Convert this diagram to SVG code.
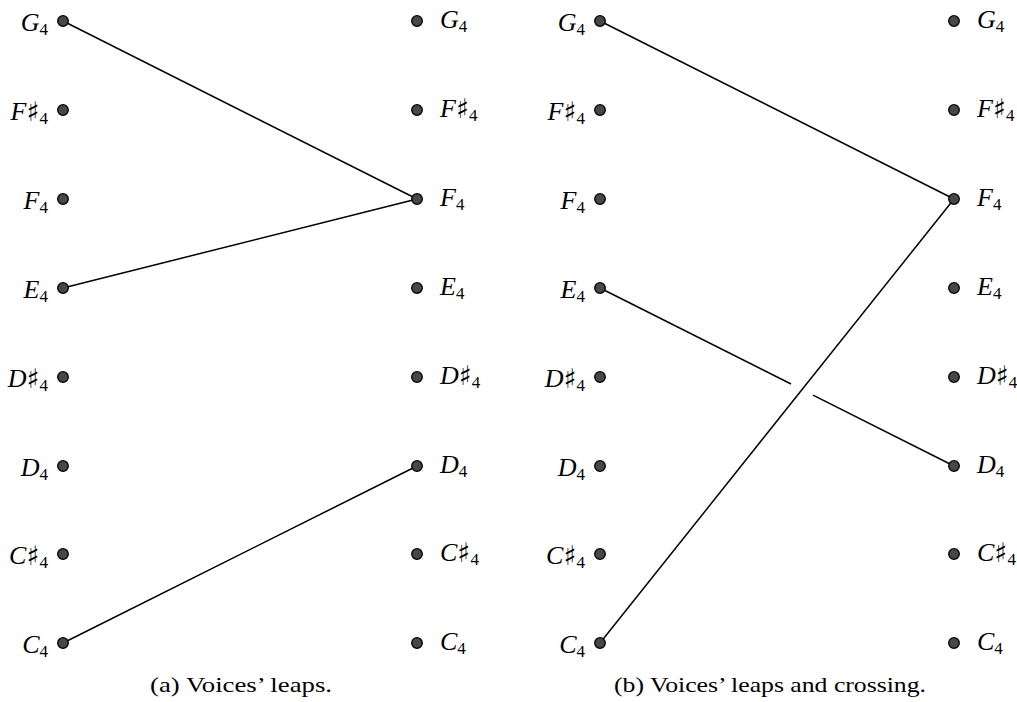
<svg xmlns="http://www.w3.org/2000/svg" width="1017" height="702" viewBox="0 0 1017 702">
<style>
.dot{fill:#474747;stroke:#000;stroke-width:1.3}
.lab{font-family:"Liberation Serif",serif;font-size:26px;fill:#000}
.L{text-anchor:end}
.n{font-style:italic}
.s{font-family:"DejaVu Serif","Liberation Serif",serif;font-size:27px;font-style:normal}
.sub{font-size:17px;font-style:normal}
.edge{stroke:#000;stroke-width:1.5;fill:none}
.cap{font-family:"Liberation Serif",serif;font-size:22px;fill:#000;text-anchor:middle}
</style>
<rect width="1017" height="702" fill="#fff"/>
<g id="connectors">
<line class="edge" x1="63" y1="21" x2="417" y2="199"/>
<line class="edge" x1="63" y1="288" x2="417" y2="199"/>
<line class="edge" x1="63" y1="643" x2="417" y2="466"/>
<line class="edge" x1="600" y1="21" x2="954" y2="199"/>
<line class="edge" x1="600" y1="643" x2="954" y2="199"/>
<line class="edge" x1="600" y1="288" x2="791" y2="384"/>
<line class="edge" x1="813" y1="395.1" x2="954" y2="466"/>
</g>
<!-- Panel a, left column -->
<g id="a-l-G4"><circle class="dot" cx="63" cy="21" r="5.3"/><text class="lab L" x="48" y="31"><tspan class="n">G</tspan><tspan class="sub" dy="4">4</tspan></text></g>
<g id="a-l-Fs4"><circle class="dot" cx="63" cy="110" r="5.3"/><text class="lab L" x="48" y="120"><tspan class="n">F</tspan><tspan class="s" dy="1">♯</tspan><tspan class="sub" dy="3">4</tspan></text></g>
<g id="a-l-F4"><circle class="dot" cx="63" cy="199" r="5.3"/><text class="lab L" x="48" y="209"><tspan class="n">F</tspan><tspan class="sub" dy="4">4</tspan></text></g>
<g id="a-l-E4"><circle class="dot" cx="63" cy="288" r="5.3"/><text class="lab L" x="48" y="298"><tspan class="n">E</tspan><tspan class="sub" dy="4">4</tspan></text></g>
<g id="a-l-Ds4"><circle class="dot" cx="63" cy="377" r="5.3"/><text class="lab L" x="48" y="387"><tspan class="n">D</tspan><tspan class="s" dy="1">♯</tspan><tspan class="sub" dy="3">4</tspan></text></g>
<g id="a-l-D4"><circle class="dot" cx="63" cy="466" r="5.3"/><text class="lab L" x="48" y="476"><tspan class="n">D</tspan><tspan class="sub" dy="4">4</tspan></text></g>
<g id="a-l-Cs4"><circle class="dot" cx="63" cy="554" r="5.3"/><text class="lab L" x="48" y="564"><tspan class="n">C</tspan><tspan class="s" dy="1">♯</tspan><tspan class="sub" dy="3">4</tspan></text></g>
<g id="a-l-C4"><circle class="dot" cx="63" cy="643" r="5.3"/><text class="lab L" x="48" y="653"><tspan class="n">C</tspan><tspan class="sub" dy="4">4</tspan></text></g>
<!-- Panel a, right column -->
<g id="a-r-G4"><circle class="dot" cx="417" cy="21" r="5.3"/><text class="lab" x="440" y="28"><tspan class="n">G</tspan><tspan class="sub" dy="4">4</tspan></text></g>
<g id="a-r-Fs4"><circle class="dot" cx="417" cy="110" r="5.3"/><text class="lab" x="440" y="117"><tspan class="n">F</tspan><tspan class="s" dy="1">♯</tspan><tspan class="sub" dy="3">4</tspan></text></g>
<g id="a-r-F4"><circle class="dot" cx="417" cy="199" r="5.3"/><text class="lab" x="440" y="206"><tspan class="n">F</tspan><tspan class="sub" dy="4">4</tspan></text></g>
<g id="a-r-E4"><circle class="dot" cx="417" cy="288" r="5.3"/><text class="lab" x="440" y="295"><tspan class="n">E</tspan><tspan class="sub" dy="4">4</tspan></text></g>
<g id="a-r-Ds4"><circle class="dot" cx="417" cy="377" r="5.3"/><text class="lab" x="440" y="384"><tspan class="n">D</tspan><tspan class="s" dy="1">♯</tspan><tspan class="sub" dy="3">4</tspan></text></g>
<g id="a-r-D4"><circle class="dot" cx="417" cy="466" r="5.3"/><text class="lab" x="440" y="473"><tspan class="n">D</tspan><tspan class="sub" dy="4">4</tspan></text></g>
<g id="a-r-Cs4"><circle class="dot" cx="417" cy="554" r="5.3"/><text class="lab" x="440" y="561"><tspan class="n">C</tspan><tspan class="s" dy="1">♯</tspan><tspan class="sub" dy="3">4</tspan></text></g>
<g id="a-r-C4"><circle class="dot" cx="417" cy="643" r="5.3"/><text class="lab" x="440" y="650"><tspan class="n">C</tspan><tspan class="sub" dy="4">4</tspan></text></g>
<!-- Panel b, left column -->
<g id="b-l-G4"><circle class="dot" cx="600" cy="21" r="5.3"/><text class="lab L" x="585" y="31"><tspan class="n">G</tspan><tspan class="sub" dy="4">4</tspan></text></g>
<g id="b-l-Fs4"><circle class="dot" cx="600" cy="110" r="5.3"/><text class="lab L" x="585" y="120"><tspan class="n">F</tspan><tspan class="s" dy="1">♯</tspan><tspan class="sub" dy="3">4</tspan></text></g>
<g id="b-l-F4"><circle class="dot" cx="600" cy="199" r="5.3"/><text class="lab L" x="585" y="209"><tspan class="n">F</tspan><tspan class="sub" dy="4">4</tspan></text></g>
<g id="b-l-E4"><circle class="dot" cx="600" cy="288" r="5.3"/><text class="lab L" x="585" y="298"><tspan class="n">E</tspan><tspan class="sub" dy="4">4</tspan></text></g>
<g id="b-l-Ds4"><circle class="dot" cx="600" cy="377" r="5.3"/><text class="lab L" x="585" y="387"><tspan class="n">D</tspan><tspan class="s" dy="1">♯</tspan><tspan class="sub" dy="3">4</tspan></text></g>
<g id="b-l-D4"><circle class="dot" cx="600" cy="466" r="5.3"/><text class="lab L" x="585" y="476"><tspan class="n">D</tspan><tspan class="sub" dy="4">4</tspan></text></g>
<g id="b-l-Cs4"><circle class="dot" cx="600" cy="554" r="5.3"/><text class="lab L" x="585" y="564"><tspan class="n">C</tspan><tspan class="s" dy="1">♯</tspan><tspan class="sub" dy="3">4</tspan></text></g>
<g id="b-l-C4"><circle class="dot" cx="600" cy="643" r="5.3"/><text class="lab L" x="585" y="653"><tspan class="n">C</tspan><tspan class="sub" dy="4">4</tspan></text></g>
<!-- Panel b, right column -->
<g id="b-r-G4"><circle class="dot" cx="954" cy="21" r="5.3"/><text class="lab" x="977" y="28"><tspan class="n">G</tspan><tspan class="sub" dy="4">4</tspan></text></g>
<g id="b-r-Fs4"><circle class="dot" cx="954" cy="110" r="5.3"/><text class="lab" x="977" y="117"><tspan class="n">F</tspan><tspan class="s" dy="1">♯</tspan><tspan class="sub" dy="3">4</tspan></text></g>
<g id="b-r-F4"><circle class="dot" cx="954" cy="199" r="5.3"/><text class="lab" x="977" y="206"><tspan class="n">F</tspan><tspan class="sub" dy="4">4</tspan></text></g>
<g id="b-r-E4"><circle class="dot" cx="954" cy="288" r="5.3"/><text class="lab" x="977" y="295"><tspan class="n">E</tspan><tspan class="sub" dy="4">4</tspan></text></g>
<g id="b-r-Ds4"><circle class="dot" cx="954" cy="377" r="5.3"/><text class="lab" x="977" y="384"><tspan class="n">D</tspan><tspan class="s" dy="1">♯</tspan><tspan class="sub" dy="3">4</tspan></text></g>
<g id="b-r-D4"><circle class="dot" cx="954" cy="466" r="5.3"/><text class="lab" x="977" y="473"><tspan class="n">D</tspan><tspan class="sub" dy="4">4</tspan></text></g>
<g id="b-r-Cs4"><circle class="dot" cx="954" cy="554" r="5.3"/><text class="lab" x="977" y="561"><tspan class="n">C</tspan><tspan class="s" dy="1">♯</tspan><tspan class="sub" dy="3">4</tspan></text></g>
<g id="b-r-C4"><circle class="dot" cx="954" cy="643" r="5.3"/><text class="lab" x="977" y="650"><tspan class="n">C</tspan><tspan class="sub" dy="4">4</tspan></text></g>
<g id="captions">
<text class="cap" x="241" y="692" textLength="182" lengthAdjust="spacingAndGlyphs">(a) Voices’ leaps.</text>
<text class="cap" x="770" y="692" textLength="312" lengthAdjust="spacingAndGlyphs">(b) Voices’ leaps and crossing.</text>
</g>
</svg>
